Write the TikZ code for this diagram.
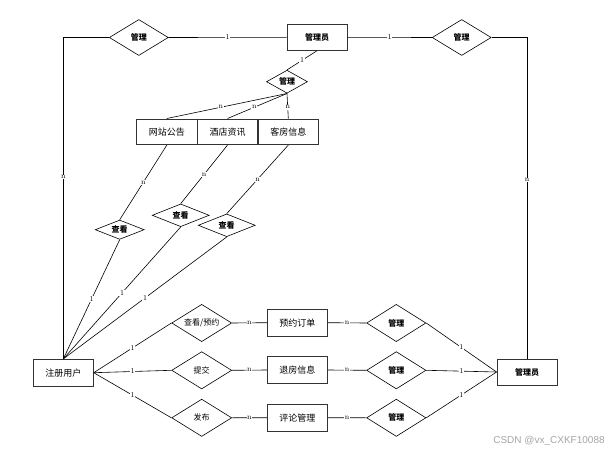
\documentclass[tikz,border=0pt]{standalone}
\usepackage{fontspec}
\newfontfamily\cjk{Noto Sans CJK SC}
\newfontfamily\wmfont{Liberation Sans}
\usetikzlibrary{shapes.geometric}
\begin{document}
\begin{tikzpicture}[x=1pt,y=-1pt,
  ent/.style={draw=black!80, line width=0.9pt, minimum width=60pt, minimum height=26pt, inner sep=0pt, fill=white, font=\cjk\fontsize{9}{9}\selectfont},
  entb/.style={ent, font=\cjk\bfseries\fontsize{8}{8}\selectfont},
  rel/.style={draw, diamond, aspect=1.6, inner sep=0pt, line width=0.6pt, minimum width=60pt, minimum height=37.3pt, fill=white, font=\cjk\fontsize{8}{8}\selectfont},
  relb/.style={rel, font=\cjk\bfseries\fontsize{8}{8}\selectfont},
  lbl/.style={fill=white, inner sep=0.6pt, font=\fontsize{7.5}{7.5}\selectfont},
  conn/.style={line width=0.6pt}]
\useasboundingbox (0,0) rectangle (616,452);
\fill[white] (0,0) rectangle (616,452);
% entities
\node[entb] (admin) at (317,37.3) {管理员};
\node[entb] (admin2) at (527,372) {管理员};
\node[ent, minimum width=60.5pt, minimum height=25.7pt] (e1) at (166.8,131.8) {网站公告};
\node[ent, minimum width=60.5pt, minimum height=25.7pt] (e2) at (227.5,131.8) {酒店资讯};
\node[ent, minimum width=60.5pt, minimum height=25.7pt] (e3) at (288.3,131.8) {客房信息};
\node[ent, minimum height=26.7pt] (user) at (63.3,372.7) {注册用户};
\node[ent, minimum height=26.7pt] (o1) at (297.3,322.7) {预约订单};
\node[ent, minimum height=26.7pt] (o2) at (297.3,370) {退房信息};
\node[ent, minimum height=26.7pt] (o3) at (297.3,417.7) {评论管理};
% relations
\node[relb, minimum width=59pt, minimum height=36pt] (mgL) at (138.8,37.5) {管理};
\node[relb, minimum width=59pt, minimum height=36pt] (mgR) at (461.7,37.5) {管理};
\node[relb, aspect=2, minimum width=41pt, minimum height=23pt] (mgT) at (287,81.7) {管理};
\node[relb, aspect=2.5, minimum width=49pt, minimum height=19.3pt] (d1) at (119.7,229.7) {查看};
\node[relb, aspect=2.5, minimum width=57pt, minimum height=22.7pt] (d2) at (180.7,215.3) {查看};
\node[relb, aspect=2.5, minimum width=57pt, minimum height=22.7pt] (d3) at (226.7,225.3) {查看};
\node[rel] (b1) at (201.7,323) {查看/预约};
\node[rel] (b2) at (201.7,370.3) {提交};
\node[rel] (b3) at (201.7,417.8) {发布};
\node[relb, minimum width=59.3pt] (m1) at (396.3,323) {管理};
\node[relb, minimum width=59.3pt] (m2) at (396.3,370.3) {管理};
\node[relb, minimum width=59.3pt] (m3) at (396.3,417.8) {管理};
% connectors top
\draw[conn] (mgL.east) -- node[lbl]{1} (admin.west);
\draw[conn] (admin.east) -- node[lbl]{1} (mgR.west);
\draw[conn] (mgL.west) -| node[lbl, pos=0.717]{n} (user.north);
\draw[conn] (mgR.east) -| node[lbl, pos=0.722]{n} (admin2.north);
\draw[conn] (admin.south) -- node[lbl]{1} (mgT.north);
\draw[conn] (mgT.south) -- node[lbl, pos=0.55]{n} (e1.north);
\draw[conn] (mgT.south) -- node[lbl, pos=0.55]{n} (e2.north);
\draw[conn] (mgT.south) -- node[lbl, pos=0.55]{n} (e3.north);
% middle
\draw[conn] (e1.south) -- node[lbl]{n} (d1.north);
\draw[conn] (e2.south) -- node[lbl]{n} (d2.north);
\draw[conn] (e3.south) -- node[lbl]{n} (d3.north);
\draw[conn] (d1.south) -- node[lbl]{1} (user.north);
\draw[conn] (d2.south) -- node[lbl]{1} (user.north);
\draw[conn] (d3.south) -- node[lbl]{1} (user.north);
% bottom
\draw[conn] (user.east) -- node[lbl]{1} (b1.west);
\draw[conn] (user.east) -- node[lbl]{1} (b2.west);
\draw[conn] (user.east) -- node[lbl]{1} (b3.west);
\draw[conn] (b1.east) -- node[lbl]{n} (o1.west);
\draw[conn] (b2.east) -- node[lbl]{n} (o2.west);
\draw[conn] (b3.east) -- node[lbl]{n} (o3.west);
\draw[conn] (o1.east) -- node[lbl]{n} (m1.west);
\draw[conn] (o2.east) -- node[lbl]{n} (m2.west);
\draw[conn] (o3.east) -- node[lbl]{n} (m3.west);
\draw[conn] (m1.east) -- node[lbl]{1} (admin2.west);
\draw[conn] (m2.east) -- node[lbl]{1} (admin2.west);
\draw[conn] (m3.east) -- node[lbl]{1} (admin2.west);
% watermark
\node[font=\wmfont\fontsize{10}{10}\selectfont, text=black!35, inner sep=0pt] (wm) at (549,440.5) {CSDN @vx\_CXKF10088};
\end{tikzpicture}
\end{document}
